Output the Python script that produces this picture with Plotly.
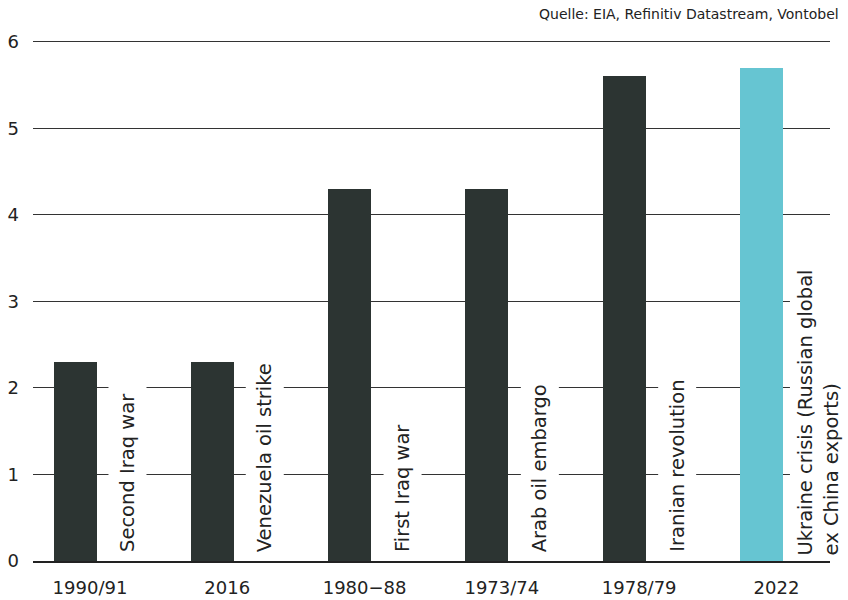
import plotly.graph_objects as go

categories = ["1990/91", "2016", "1980\u221288", "1973/74", "1978/79", "2022"]
values = [2.3, 2.3, 4.3, 4.3, 5.6, 5.7]
event_labels = [
    "Second Iraq war",
    "Venezuela oil strike",
    "First Iraq war",
    "Arab oil embargo",
    "Iranian revolution",
    "Ukraine crisis (Russian global<br>ex China exports)",
]
y_ticks = [0, 1, 2, 3, 4, 5, 6]
source_text = "Quelle: EIA, Refinitiv Datastream, Vontobel"

DARK = "#2c3432"
CYAN = "#66c5d2"
TEXT = "#222222"
FONT = "DejaVu Sans"

bar_colors = [DARK] * (len(categories) - 1) + [CYAN]

fig = go.Figure()
fig.add_trace(go.Bar(
    x=categories,
    y=values,
    marker=dict(color=bar_colors, line=dict(width=0)),
    width=0.313,
    offset=-0.265,
    hoverinfo="skip",
))

# annotations placed at category index (category names look numeric)
for idx, lab in enumerate(event_labels):
    n_lines = lab.count("<br>") + 1
    fig.add_annotation(
        x=idx, y=0, xref="x", yref="y",
        text=lab, textangle=-90,
        showarrow=False,
        xanchor="left", yanchor="bottom",
        xshift=18 - 5 * (n_lines - 1), yshift=1,
        align="left",
        bgcolor="white",
        borderpad=7 if n_lines == 1 else 4,
        font=dict(family=FONT, size=19.5, color=TEXT),
    )

fig.add_annotation(
    x=1, y=1, xref="paper", yref="paper",
    text=source_text, showarrow=False,
    xanchor="right", yanchor="bottom",
    xshift=11, yshift=13,
    font=dict(family=FONT, size=14, color=TEXT),
)

fig.update_layout(
    width=848, height=600,
    margin=dict(l=33, r=18, t=37, b=39),
    paper_bgcolor="white",
    plot_bgcolor="white",
    showlegend=False,
    bargap=0,
    font=dict(family=FONT, size=18, color=TEXT),
)
fig.update_xaxes(
    type="category",
    range=[-0.415, 5.39],
    showgrid=False,
    showline=True, linecolor="#222222", linewidth=2,
    ticks="", ticklabelstandoff=9,
    tickfont=dict(family=FONT, size=18, color=TEXT),
    automargin=False,
    fixedrange=True,
)
fig.update_yaxes(
    range=[0, 6.055],
    tickvals=y_ticks,
    showgrid=True, gridcolor="#333333", gridwidth=1,
    zeroline=False,
    showline=False,
    ticks="", ticklabelstandoff=13,
    tickfont=dict(family=FONT, size=18, color=TEXT),
    automargin=False,
    fixedrange=True,
)

fig.write_html("out.html")
